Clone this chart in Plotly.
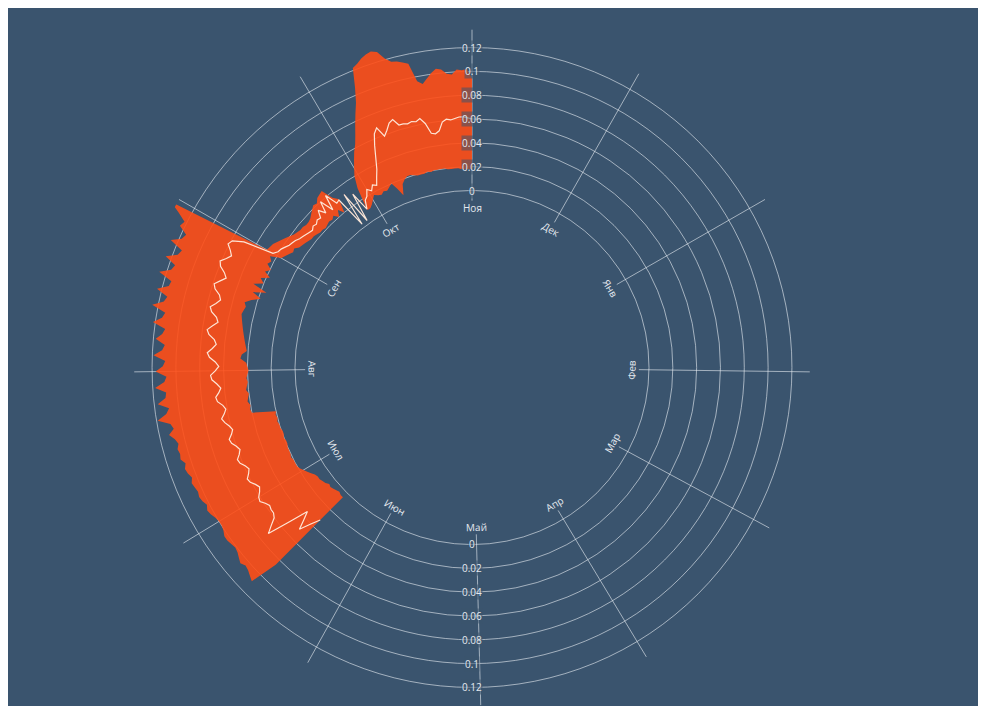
import math
import plotly.graph_objects as go

# ---------------- data (daily values; day 0 = 1 Nov) ----------------
START_DAY = 228
DAYS_IN_YEAR = 365

max_vals = [
    0.085, 0.109, 0.107, 0.105, 0.104, 0.106, 0.104, 0.102, 0.101, 0.102, 0.103,
    0.103, 0.101, 0.100, 0.100, 0.101, 0.103, 0.104, 0.102, 0.104, 0.105, 0.104,
    0.105, 0.106, 0.104, 0.106, 0.107, 0.105, 0.108, 0.107, 0.108, 0.106,
    0.108, 0.112, 0.107, 0.109, 0.119, 0.111, 0.108, 0.117, 0.110, 0.109,
    0.118, 0.110, 0.108, 0.117, 0.111, 0.109, 0.119, 0.112, 0.110, 0.118,
    0.113, 0.111, 0.122, 0.115, 0.113, 0.125, 0.116, 0.114, 0.124, 0.115,
    0.114, 0.126, 0.117, 0.115, 0.125, 0.116, 0.114, 0.126, 0.118, 0.116,
    0.124, 0.122, 0.130, 0.140,
    0.050, 0.049, 0.048, 0.046, 0.044, 0.042, 0.040, 0.038, 0.037, 0.036, 0.036,
    0.035, 0.035, 0.036, 0.038, 0.040, 0.042, 0.041, 0.044, 0.045, 0.046, 0.036,
    0.032, 0.004, 0.033, 0.004, 0.029, 0.012, 0.030,
    0.040, 0.046, 0.052, 0.058, 0.063, 0.070, 0.078, 0.086, 0.094, 0.106, 0.122,
    0.124, 0.127, 0.129, 0.130, 0.128, 0.121, 0.117, 0.116, 0.114, 0.112, 0.096,
    0.093, 0.097, 0.101, 0.104, 0.103, 0.099, 0.098, 0.102, 0.101, 0.102, 0.094,
]

min_vals = [
    0.005, 0.005, 0.004, 0.005, 0.006, 0.007, 0.006, 0.008, 0.009, 0.010, 0.010,
    0.011, 0.013, 0.015, 0.017, 0.019, 0.020, 0.020, 0.020, 0.021, 0.020, 0.020,
    0.020, 0.019, 0.019, 0.020, 0.019, 0.019, 0.020, 0.020, 0.021, 0.020,
    0.021, 0.020, 0.040, 0.041, 0.040, 0.042, 0.041, 0.040, 0.042, 0.041,
    0.040, 0.041, 0.040, 0.039, 0.040, 0.041, 0.046, 0.045, 0.041, 0.042,
    0.043, 0.044, 0.045, 0.046, 0.047, 0.048, 0.049, 0.050, 0.049, 0.048,
    0.050, 0.045, 0.038, 0.046, 0.035, 0.048, 0.040, 0.044, 0.037, 0.043,
    0.039, 0.044, 0.042, 0.045,
    0.036, 0.034, 0.032, 0.030, 0.031, 0.028, 0.027, 0.026, 0.025, 0.024, 0.024,
    0.023, 0.022, 0.022, 0.021, 0.022, 0.023, 0.022, 0.024, 0.020, 0.025, 0.020,
    0.030, 0.003, 0.031, 0.003, 0.027, 0.010, 0.010,
    0.012, 0.015, 0.018, 0.016, 0.015, 0.017, 0.016, 0.018, 0.020, 0.014, 0.007,
    0.016, 0.019, 0.021, 0.021, 0.020, 0.019, 0.019, 0.019, 0.020, 0.019, 0.020,
    0.020, 0.020, 0.020, 0.019, 0.019, 0.019, 0.019, 0.018, 0.018, 0.018, 0.018,
]

mean_vals = [
    0.032, 0.040, 0.050, 0.042, 0.035, 0.052, 0.072, 0.066, 0.060, 0.058, 0.058,
    0.057, 0.059, 0.062, 0.061, 0.058, 0.056, 0.058, 0.061, 0.062, 0.059, 0.057,
    0.059, 0.062, 0.063, 0.060, 0.058, 0.060, 0.063, 0.064, 0.061, 0.059,
    0.061, 0.064, 0.066, 0.063, 0.061, 0.063, 0.067, 0.068, 0.065, 0.063,
    0.066, 0.070, 0.071, 0.067, 0.064, 0.067, 0.072, 0.074, 0.070, 0.067,
    0.069, 0.074, 0.076, 0.072, 0.068, 0.070, 0.075, 0.077, 0.073, 0.070,
    0.072, 0.077, 0.079, 0.075, 0.071, 0.074, 0.079, 0.081, 0.077, 0.074,
    0.077, 0.081, 0.079, 0.070,
    0.044, 0.041, 0.040, 0.038, 0.036, 0.035, 0.034, 0.032, 0.031, 0.030, 0.029,
    0.028, 0.030, 0.029, 0.031, 0.030, 0.036, 0.030, 0.040, 0.028, 0.041, 0.030,
    0.031, 0.003, 0.032, 0.003, 0.028, 0.011, 0.018,
    0.020, 0.025, 0.022, 0.026, 0.024, 0.030, 0.036, 0.045, 0.055, 0.064, 0.068,
    0.059, 0.063, 0.068, 0.070, 0.064, 0.064, 0.063, 0.064, 0.063, 0.065, 0.060,
    0.051, 0.050, 0.052, 0.059, 0.061, 0.060, 0.061, 0.062, 0.062, 0.061, 0.060,
]

months = ["Ноя", "Дек", "Янв", "Фев", "Мар", "Апр",
          "Май", "Июн", "Июл", "Авг", "Сен", "Окт"]
month_start_days = [0, 30, 61, 92, 120, 151, 181, 212, 242, 273, 304, 334]

radial_ticks = [0, 0.02, 0.04, 0.06, 0.08, 0.1, 0.12]
radial_tick_text = ["0", "0.02", "0.04", "0.06", "0.08", "0.1", "0.12"]

# ---------------- scales ----------------
n = len(mean_vals)
days = list(range(START_DAY, START_DAY + n))
theta = [d * 360.0 / DAYS_IN_YEAR for d in days]
month_theta = [d * 360.0 / DAYS_IN_YEAR for d in month_start_days]

# ---------------- layout geometry ----------------
W, H = 970, 698
CX, CY = 464.0, 359.5          # polar centre in figure pixels (from top-left)
R_PX = 337.8                   # outer radius in pixels
R_RANGE = [-0.0085, 0.135]
HOLE = 0.494
INNER_RING = -0.008
LABEL_R = -0.015

BG = "#3a546e"
ORANGE = "rgba(255,78,22,0.90)"
GRID = "rgba(235,240,245,0.6)"
TEXT = "#e4e9ef"


def to_paper(theta_deg, r):
    frac = (r - R_RANGE[0]) / (R_RANGE[1] - R_RANGE[0])
    rho = R_PX * (HOLE + (1 - HOLE) * frac)
    a = math.radians(theta_deg)
    x = CX + rho * math.sin(a)
    y = CY - rho * math.cos(a)
    return x / W, 1 - y / H


fig = go.Figure()

# min-max band
fig.add_trace(go.Scatterpolar(
    r=max_vals + min_vals[::-1],
    theta=theta + theta[::-1],
    mode="lines",
    fill="toself",
    fillcolor=ORANGE,
    line=dict(width=0, color=ORANGE),
    hoverinfo="skip",
    showlegend=False,
))

# mean line
fig.add_trace(go.Scatterpolar(
    r=mean_vals,
    theta=theta,
    mode="lines",
    line=dict(color="rgba(255,236,222,0.95)", width=1.2),
    showlegend=False,
))

annotations = []
# month labels inside the inner ring
for name, th in zip(months, month_theta):
    px, py = to_paper(th, LABEL_R)
    if 90 < th < 270:
        ang = th - 180
    elif th >= 270:
        ang = th - 360
    else:
        ang = th
    annotations.append(dict(
        x=px, y=py, xref="paper", yref="paper", text=name, showarrow=False,
        textangle=ang, xanchor="center", yanchor="middle",
        font=dict(size=10, color=TEXT, family="Open Sans, DejaVu Sans, sans-serif"),
    ))

# radial tick labels on top and bottom
for th in (0, 180):
    for val, txt in zip(radial_ticks, radial_tick_text):
        px, py = to_paper(th, val)
        annotations.append(dict(
            x=px, y=py, xref="paper", yref="paper", text=txt, showarrow=False,
            xanchor="center", yanchor="middle",
            bgcolor="rgba(58,84,110,0.55)", borderpad=0,
            font=dict(size=10, color=TEXT, family="Open Sans, DejaVu Sans, sans-serif"),
        ))

fig.update_layout(
    width=W, height=H,
    margin=dict(l=0, r=0, t=0, b=0),
    paper_bgcolor=BG,
    plot_bgcolor=BG,
    showlegend=False,
    annotations=annotations,
    polar=dict(
        domain=dict(x=[(CX - R_PX) / W, (CX + R_PX) / W],
                    y=[1 - (CY + R_PX) / H, 1 - (CY - R_PX) / H]),
        hole=HOLE,
        bgcolor="rgba(0,0,0,0)",
        radialaxis=dict(
            range=R_RANGE,
            tickvals=[INNER_RING] + radial_ticks,
            showticklabels=False,
            ticks="",
            showline=False,
            gridcolor=GRID,
            gridwidth=1,
        ),
        angularaxis=dict(
            rotation=90,
            direction="clockwise",
            tickvals=month_theta,
            showticklabels=False,
            ticks="",
            showline=False,
            gridcolor=GRID,
            gridwidth=1,
        ),
    ),
)

fig.write_html("out.html")
